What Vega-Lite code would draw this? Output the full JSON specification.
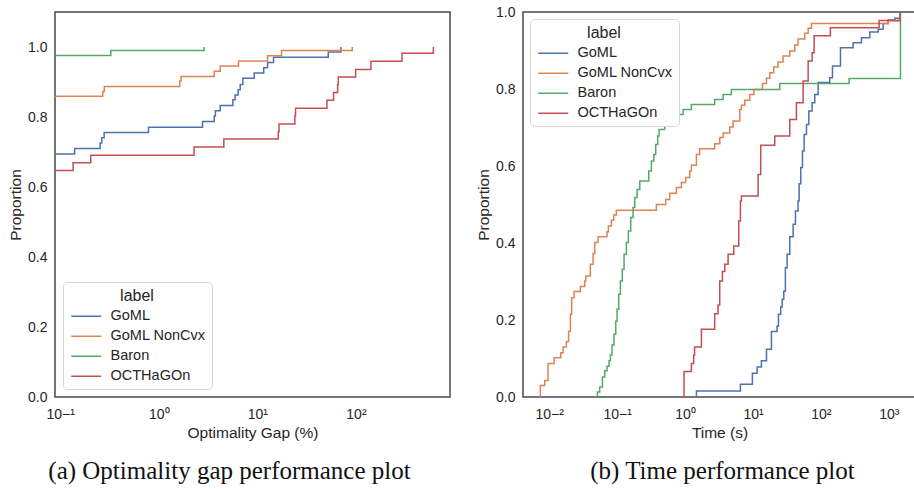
{
  "$schema": "https://vega.github.io/schema/vega-lite/v6.json",
  "background": "white",
  "padding": {"left": 7, "top": 4, "right": 1, "bottom": 2},
  "datasets": {
    "gap": [
      {"label": "GoML", "x": 0.0885, "p": 0.694},
      {"label": "GoML", "x": 0.14, "p": 0.71},
      {"label": "GoML", "x": 0.254, "p": 0.726},
      {"label": "GoML", "x": 0.264, "p": 0.741},
      {"label": "GoML", "x": 0.279, "p": 0.756},
      {"label": "GoML", "x": 0.786, "p": 0.771},
      {"label": "GoML", "x": 2.78, "p": 0.787},
      {"label": "GoML", "x": 3.65, "p": 0.803},
      {"label": "GoML", "x": 3.75, "p": 0.818},
      {"label": "GoML", "x": 4.2, "p": 0.833},
      {"label": "GoML", "x": 5.64, "p": 0.849},
      {"label": "GoML", "x": 5.95, "p": 0.863},
      {"label": "GoML", "x": 6.38, "p": 0.878},
      {"label": "GoML", "x": 6.7, "p": 0.893},
      {"label": "GoML", "x": 7.12, "p": 0.911},
      {"label": "GoML", "x": 9.29, "p": 0.926},
      {"label": "GoML", "x": 11.6, "p": 0.941},
      {"label": "GoML", "x": 12.7, "p": 0.956},
      {"label": "GoML", "x": 14.6, "p": 0.971},
      {"label": "GoML", "x": 52.4, "p": 0.986},
      {"label": "GoML", "x": 70.4, "p": 1.0},
      {"label": "GoML NonCvx", "x": 0.0885, "p": 0.859},
      {"label": "GoML NonCvx", "x": 0.27, "p": 0.873},
      {"label": "GoML NonCvx", "x": 0.28, "p": 0.887},
      {"label": "GoML NonCvx", "x": 1.63, "p": 0.903},
      {"label": "GoML NonCvx", "x": 1.68, "p": 0.916},
      {"label": "GoML NonCvx", "x": 3.65, "p": 0.931},
      {"label": "GoML NonCvx", "x": 4.2, "p": 0.946},
      {"label": "GoML NonCvx", "x": 6.44, "p": 0.96},
      {"label": "GoML NonCvx", "x": 12.7, "p": 0.975},
      {"label": "GoML NonCvx", "x": 17.6, "p": 0.99},
      {"label": "GoML NonCvx", "x": 91.8, "p": 1.0},
      {"label": "Baron", "x": 0.0885, "p": 0.976},
      {"label": "Baron", "x": 0.326, "p": 0.99},
      {"label": "Baron", "x": 2.88, "p": 1.0},
      {"label": "OCTHaGOn", "x": 0.0885, "p": 0.647},
      {"label": "OCTHaGOn", "x": 0.135, "p": 0.669},
      {"label": "OCTHaGOn", "x": 0.204, "p": 0.691},
      {"label": "OCTHaGOn", "x": 2.28, "p": 0.714},
      {"label": "OCTHaGOn", "x": 4.57, "p": 0.737},
      {"label": "OCTHaGOn", "x": 16.3, "p": 0.758},
      {"label": "OCTHaGOn", "x": 16.6, "p": 0.78},
      {"label": "OCTHaGOn", "x": 24.0, "p": 0.803},
      {"label": "OCTHaGOn", "x": 24.4, "p": 0.825},
      {"label": "OCTHaGOn", "x": 50.8, "p": 0.848},
      {"label": "OCTHaGOn", "x": 59.3, "p": 0.87},
      {"label": "OCTHaGOn", "x": 65.2, "p": 0.892},
      {"label": "OCTHaGOn", "x": 66.2, "p": 0.914},
      {"label": "OCTHaGOn", "x": 99.3, "p": 0.936},
      {"label": "OCTHaGOn", "x": 142, "p": 0.959},
      {"label": "OCTHaGOn", "x": 293, "p": 0.982},
      {"label": "OCTHaGOn", "x": 610, "p": 1.0}
    ],
    "time": [
      {"label": "GoML", "x": 1.465, "p": 0},
      {"label": "GoML", "x": 1.47, "p": 0.0156},
      {"label": "GoML", "x": 6.53, "p": 0.033},
      {"label": "GoML", "x": 9.8, "p": 0.0615},
      {"label": "GoML", "x": 11.5, "p": 0.078},
      {"label": "GoML", "x": 13.3, "p": 0.094},
      {"label": "GoML", "x": 15.8, "p": 0.124},
      {"label": "GoML", "x": 18.7, "p": 0.17},
      {"label": "GoML", "x": 22.6, "p": 0.184},
      {"label": "GoML", "x": 23.7, "p": 0.215},
      {"label": "GoML", "x": 25.6, "p": 0.234},
      {"label": "GoML", "x": 26.9, "p": 0.254},
      {"label": "GoML", "x": 28.4, "p": 0.275},
      {"label": "GoML", "x": 30.0, "p": 0.336},
      {"label": "GoML", "x": 31.8, "p": 0.371},
      {"label": "GoML", "x": 34.8, "p": 0.416},
      {"label": "GoML", "x": 39.0, "p": 0.449},
      {"label": "GoML", "x": 42.2, "p": 0.483},
      {"label": "GoML", "x": 46.1, "p": 0.509},
      {"label": "GoML", "x": 47.8, "p": 0.554},
      {"label": "GoML", "x": 50.5, "p": 0.596},
      {"label": "GoML", "x": 53.5, "p": 0.639},
      {"label": "GoML", "x": 56.6, "p": 0.682},
      {"label": "GoML", "x": 61.3, "p": 0.708},
      {"label": "GoML", "x": 66.3, "p": 0.743},
      {"label": "GoML", "x": 74.2, "p": 0.764},
      {"label": "GoML", "x": 81.2, "p": 0.786},
      {"label": "GoML", "x": 91, "p": 0.817},
      {"label": "GoML", "x": 135, "p": 0.829},
      {"label": "GoML", "x": 148, "p": 0.86},
      {"label": "GoML", "x": 194, "p": 0.907},
      {"label": "GoML", "x": 298, "p": 0.92},
      {"label": "GoML", "x": 395, "p": 0.933},
      {"label": "GoML", "x": 525, "p": 0.948},
      {"label": "GoML", "x": 696, "p": 0.955},
      {"label": "GoML", "x": 824, "p": 0.97},
      {"label": "GoML", "x": 977, "p": 0.979},
      {"label": "GoML", "x": 1225, "p": 0.984},
      {"label": "GoML", "x": 1452, "p": 1.0},
      {"label": "GoML NonCvx", "x": 0.00738, "p": 0},
      {"label": "GoML NonCvx", "x": 0.0074, "p": 0.03},
      {"label": "GoML NonCvx", "x": 0.00858, "p": 0.043},
      {"label": "GoML NonCvx", "x": 0.0096, "p": 0.087},
      {"label": "GoML NonCvx", "x": 0.0118, "p": 0.102},
      {"label": "GoML NonCvx", "x": 0.0148, "p": 0.115},
      {"label": "GoML NonCvx", "x": 0.016, "p": 0.13},
      {"label": "GoML NonCvx", "x": 0.0179, "p": 0.144},
      {"label": "GoML NonCvx", "x": 0.0193, "p": 0.171},
      {"label": "GoML NonCvx", "x": 0.0205, "p": 0.215},
      {"label": "GoML NonCvx", "x": 0.0214, "p": 0.258},
      {"label": "GoML NonCvx", "x": 0.0232, "p": 0.274},
      {"label": "GoML NonCvx", "x": 0.0287, "p": 0.287},
      {"label": "GoML NonCvx", "x": 0.0333, "p": 0.301},
      {"label": "GoML NonCvx", "x": 0.0345, "p": 0.314},
      {"label": "GoML NonCvx", "x": 0.0403, "p": 0.345},
      {"label": "GoML NonCvx", "x": 0.0442, "p": 0.373},
      {"label": "GoML NonCvx", "x": 0.0468, "p": 0.401},
      {"label": "GoML NonCvx", "x": 0.0523, "p": 0.416},
      {"label": "GoML NonCvx", "x": 0.071, "p": 0.429},
      {"label": "GoML NonCvx", "x": 0.0743, "p": 0.444},
      {"label": "GoML NonCvx", "x": 0.0822, "p": 0.459},
      {"label": "GoML NonCvx", "x": 0.089, "p": 0.473},
      {"label": "GoML NonCvx", "x": 0.0974, "p": 0.485},
      {"label": "GoML NonCvx", "x": 0.378, "p": 0.5},
      {"label": "GoML NonCvx", "x": 0.519, "p": 0.513},
      {"label": "GoML NonCvx", "x": 0.594, "p": 0.529},
      {"label": "GoML NonCvx", "x": 0.745, "p": 0.544},
      {"label": "GoML NonCvx", "x": 0.883, "p": 0.557},
      {"label": "GoML NonCvx", "x": 1.02, "p": 0.57},
      {"label": "GoML NonCvx", "x": 1.17, "p": 0.587},
      {"label": "GoML NonCvx", "x": 1.24, "p": 0.602},
      {"label": "GoML NonCvx", "x": 1.47, "p": 0.63},
      {"label": "GoML NonCvx", "x": 1.64, "p": 0.645},
      {"label": "GoML NonCvx", "x": 2.73, "p": 0.658},
      {"label": "GoML NonCvx", "x": 3.24, "p": 0.674},
      {"label": "GoML NonCvx", "x": 3.63, "p": 0.686},
      {"label": "GoML NonCvx", "x": 4.55, "p": 0.701},
      {"label": "GoML NonCvx", "x": 5.09, "p": 0.717},
      {"label": "GoML NonCvx", "x": 6.39, "p": 0.747},
      {"label": "GoML NonCvx", "x": 6.76, "p": 0.758},
      {"label": "GoML NonCvx", "x": 7.57, "p": 0.771},
      {"label": "GoML NonCvx", "x": 8.98, "p": 0.786},
      {"label": "GoML NonCvx", "x": 10.3, "p": 0.799},
      {"label": "GoML NonCvx", "x": 13.8, "p": 0.814},
      {"label": "GoML NonCvx", "x": 15.8, "p": 0.828},
      {"label": "GoML NonCvx", "x": 17.7, "p": 0.842},
      {"label": "GoML NonCvx", "x": 20.2, "p": 0.857},
      {"label": "GoML NonCvx", "x": 23.4, "p": 0.87},
      {"label": "GoML NonCvx", "x": 27.7, "p": 0.886},
      {"label": "GoML NonCvx", "x": 34.8, "p": 0.899},
      {"label": "GoML NonCvx", "x": 41.2, "p": 0.914},
      {"label": "GoML NonCvx", "x": 46.1, "p": 0.93},
      {"label": "GoML NonCvx", "x": 57.9, "p": 0.945},
      {"label": "GoML NonCvx", "x": 64.9, "p": 0.958},
      {"label": "GoML NonCvx", "x": 72.6, "p": 0.97},
      {"label": "GoML NonCvx", "x": 977, "p": 0.977},
      {"label": "GoML NonCvx", "x": 1452, "p": 1.0},
      {"label": "Baron", "x": 0.0510, "p": 0},
      {"label": "Baron", "x": 0.0512, "p": 0.013},
      {"label": "Baron", "x": 0.0554, "p": 0.026},
      {"label": "Baron", "x": 0.0607, "p": 0.052},
      {"label": "Baron", "x": 0.0656, "p": 0.068},
      {"label": "Baron", "x": 0.071, "p": 0.08},
      {"label": "Baron", "x": 0.076, "p": 0.094},
      {"label": "Baron", "x": 0.0795, "p": 0.109},
      {"label": "Baron", "x": 0.084, "p": 0.135},
      {"label": "Baron", "x": 0.09, "p": 0.163},
      {"label": "Baron", "x": 0.0953, "p": 0.197},
      {"label": "Baron", "x": 0.0997, "p": 0.228},
      {"label": "Baron", "x": 0.1055, "p": 0.267},
      {"label": "Baron", "x": 0.1116, "p": 0.301},
      {"label": "Baron", "x": 0.119, "p": 0.332},
      {"label": "Baron", "x": 0.1264, "p": 0.371},
      {"label": "Baron", "x": 0.1368, "p": 0.401},
      {"label": "Baron", "x": 0.1463, "p": 0.431},
      {"label": "Baron", "x": 0.1585, "p": 0.466},
      {"label": "Baron", "x": 0.1714, "p": 0.492},
      {"label": "Baron", "x": 0.1815, "p": 0.518},
      {"label": "Baron", "x": 0.1964, "p": 0.539},
      {"label": "Baron", "x": 0.2153, "p": 0.561},
      {"label": "Baron", "x": 0.292, "p": 0.587},
      {"label": "Baron", "x": 0.319, "p": 0.613},
      {"label": "Baron", "x": 0.346, "p": 0.63},
      {"label": "Baron", "x": 0.37, "p": 0.656},
      {"label": "Baron", "x": 0.396, "p": 0.678},
      {"label": "Baron", "x": 0.414, "p": 0.695},
      {"label": "Baron", "x": 0.501, "p": 0.708},
      {"label": "Baron", "x": 0.629, "p": 0.721},
      {"label": "Baron", "x": 0.745, "p": 0.734},
      {"label": "Baron", "x": 0.935, "p": 0.747},
      {"label": "Baron", "x": 1.24, "p": 0.76},
      {"label": "Baron", "x": 2.73, "p": 0.773},
      {"label": "Baron", "x": 3.63, "p": 0.786},
      {"label": "Baron", "x": 4.81, "p": 0.799},
      {"label": "Baron", "x": 24.8, "p": 0.814},
      {"label": "Baron", "x": 260, "p": 0.827},
      {"label": "Baron", "x": 1483, "p": 1.0},
      {"label": "OCTHaGOn", "x": 0.963, "p": 0},
      {"label": "OCTHaGOn", "x": 0.966, "p": 0.066},
      {"label": "OCTHaGOn", "x": 1.24, "p": 0.087},
      {"label": "OCTHaGOn", "x": 1.34, "p": 0.109},
      {"label": "OCTHaGOn", "x": 1.38, "p": 0.13},
      {"label": "OCTHaGOn", "x": 1.74, "p": 0.176},
      {"label": "OCTHaGOn", "x": 2.73, "p": 0.216},
      {"label": "OCTHaGOn", "x": 3.06, "p": 0.239},
      {"label": "OCTHaGOn", "x": 3.24, "p": 0.301},
      {"label": "OCTHaGOn", "x": 3.55, "p": 0.326},
      {"label": "OCTHaGOn", "x": 3.84, "p": 0.345},
      {"label": "OCTHaGOn", "x": 4.3, "p": 0.371},
      {"label": "OCTHaGOn", "x": 5.21, "p": 0.392},
      {"label": "OCTHaGOn", "x": 6.17, "p": 0.457},
      {"label": "OCTHaGOn", "x": 6.53, "p": 0.509},
      {"label": "OCTHaGOn", "x": 6.76, "p": 0.522},
      {"label": "OCTHaGOn", "x": 11.9, "p": 0.578},
      {"label": "OCTHaGOn", "x": 13.0, "p": 0.654},
      {"label": "OCTHaGOn", "x": 20.9, "p": 0.678},
      {"label": "OCTHaGOn", "x": 34.8, "p": 0.721},
      {"label": "OCTHaGOn", "x": 43.6, "p": 0.764},
      {"label": "OCTHaGOn", "x": 54.7, "p": 0.821},
      {"label": "OCTHaGOn", "x": 64.9, "p": 0.873},
      {"label": "OCTHaGOn", "x": 74.2, "p": 0.894},
      {"label": "OCTHaGOn", "x": 79.4, "p": 0.938},
      {"label": "OCTHaGOn", "x": 138, "p": 0.959},
      {"label": "OCTHaGOn", "x": 719, "p": 0.978},
      {"label": "OCTHaGOn", "x": 1452, "p": 1.0}
    ]
  },
  "config": {
    "view": {"stroke": "#4a4a4a", "strokeWidth": 1.5},
    "font": "Liberation Sans",
    "axis": {
      "grid": false,
      "ticks": false,
      "tickSize": 0,
      "domain": false,
      "labelFont": "Liberation Sans",
      "labelFontSize": 14,
      "labelColor": "#262626",
      "labelPadding": 8,
      "titleFont": "Liberation Sans",
      "titleFontSize": 15.5,
      "titleFontWeight": "normal",
      "titleColor": "#262626"
    },
    "legend": {
      "titleFont": "Liberation Sans",
      "titleFontSize": 16,
      "titleFontWeight": "normal",
      "titleColor": "#262626",
      "titleAnchor": "middle",
      "titlePadding": 5,
      "labelFont": "Liberation Sans",
      "labelFontSize": 14.5,
      "labelColor": "#262626",
      "labelOffset": 27,
      "symbolType": "M-1,0H5",
      "symbolSize": 100,
      "symbolStrokeWidth": 1.5,
      "rowPadding": 5,
      "padding": 6,
      "fillColor": "white",
      "strokeColor": "#d6d6d6",
      "cornerRadius": 4
    },
    "title": {"font": "Liberation Serif", "fontSize": 25, "fontWeight": "normal", "color": "#111111"},
    "concat": {"spacing": 24}
  },
  "resolve": {"legend": {"color": "independent"}},
  "hconcat": [
    {
      "width": 395,
      "height": 385,
      "data": {"name": "gap"},
      "title": {"text": "(a) Optimality gap performance plot", "orient": "bottom", "anchor": "middle", "dx": -23, "offset": 18},
      "mark": {"type": "line", "interpolate": "step-after", "strokeWidth": 1.5, "clip": true},
      "encoding": {
        "x": {
          "field": "x", "type": "quantitative",
          "scale": {"type": "log", "domain": [0.0885, 900], "nice": false},
          "axis": {
            "values": [0.1, 1, 10, 100],
            "title": "Optimality Gap (%)",
            "labelPadding": 10,
            "titlePadding": 4,
            "labelExpr": "'10' + replace(replace(replace(replace(replace(format(log(datum.value)/LN10, '.0f'), '-', '⁻'), '0', '⁰'), '1', '¹'), '2', '²'), '3', '³')"
          }
        },
        "y": {
          "field": "p", "type": "quantitative",
          "scale": {"domain": [0, 1.1], "nice": false, "zero": false},
          "axis": {"values": [0, 0.2, 0.4, 0.6, 0.8, 1.0], "format": ".1f", "title": "Proportion", "titlePadding": 4}
        },
        "color": {
          "field": "label", "type": "nominal",
          "scale": {"domain": ["GoML", "GoML NonCvx", "Baron", "OCTHaGOn"], "range": ["#4C72B0", "#DD8452", "#55A868", "#C44E52"]},
          "legend": {"title": "label", "orient": "bottom-left", "offset": 8}
        }
      }
    },
    {
      "width": 393,
      "height": 385,
      "data": {"name": "time"},
      "title": {"text": "(b) Time performance plot", "orient": "bottom", "anchor": "middle", "dx": 3, "offset": 18},
      "mark": {"type": "line", "interpolate": "step-after", "strokeWidth": 1.5, "clip": true},
      "encoding": {
        "x": {
          "field": "x", "type": "quantitative",
          "scale": {"type": "log", "domain": [0.00411, 2512], "nice": false},
          "axis": {
            "values": [0.01, 0.1, 1, 10, 100, 1000],
            "title": "Time (s)",
            "labelPadding": 10,
            "titlePadding": 4,
            "labelExpr": "'10' + replace(replace(replace(replace(replace(format(log(datum.value)/LN10, '.0f'), '-', '⁻'), '0', '⁰'), '1', '¹'), '2', '²'), '3', '³')"
          }
        },
        "y": {
          "field": "p", "type": "quantitative",
          "scale": {"domain": [0, 1.0], "nice": false, "zero": false},
          "axis": {"values": [0, 0.2, 0.4, 0.6, 0.8, 1.0], "format": ".1f", "title": "Proportion", "titlePadding": 4}
        },
        "color": {
          "field": "label", "type": "nominal",
          "scale": {"domain": ["GoML", "GoML NonCvx", "Baron", "OCTHaGOn"], "range": ["#4C72B0", "#DD8452", "#55A868", "#C44E52"]},
          "legend": {"title": "label", "orient": "top-left", "offset": 7}
        }
      }
    }
  ]
}
